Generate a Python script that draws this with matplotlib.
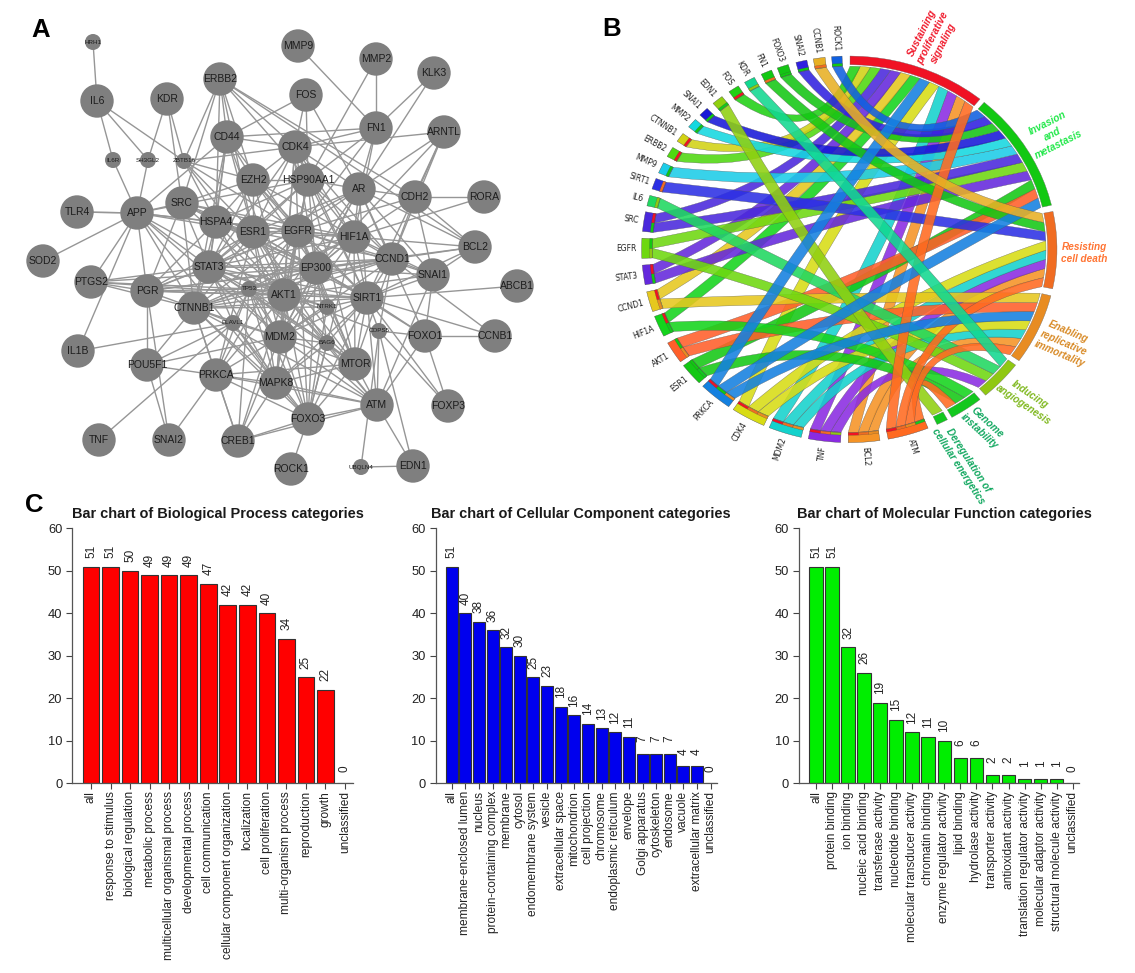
import numpy as np
import matplotlib
matplotlib.use("Agg")
import matplotlib.pyplot as plt
from matplotlib.patches import Circle, PathPatch
from matplotlib.path import Path

plt.rcParams["font.family"] = ["Liberation Sans", "DejaVu Sans"]

W, H = 1135, 973

# ---- panel A: nodes (positions, in pixels) ----
node_names = ["HRH1", "MMP9", "MMP2", "KLK3", "ERBB2", "IL6", "KDR", "FOS", "FN1", "ARNTL",
              "CD44", "CDK4", "IL6R", "SH3GL2", "ZBTB16", "EZH2", "HSP90AA1", "AR", "CDH2", "RORA",
              "TLR4", "APP", "SRC", "HSPA4", "ESR1", "EGFR", "HIF1A", "BCL2", "SOD2", "STAT3",
              "EP300", "CCND1", "SNAI1", "ABCB1", "PTGS2", "PGR", "TP53", "AKT1", "SIRT1", "NTRK1",
              "CTNNB1", "ELAVL1", "MDM2", "COPS5", "BAG6", "FOXO1", "CCNB1", "IL1B", "POU5F1", "MTOR",
              "PRKCA", "MAPK8", "FOXO3", "ATM", "FOXP3", "TNF", "SNAI2", "CREB1", "ROCK1", "UBQLN4", "EDN1"]
node_x = [93, 298, 376, 434, 220, 97, 167, 306, 376, 444,
          227, 295, 113, 148, 184, 253, 308, 359, 415, 484,
          77, 137, 182, 216, 253, 298, 354, 475, 43, 209,
          316, 392, 433, 517, 91, 147, 249, 284, 367, 327,
          194, 233, 280, 379, 327, 425, 495, 78, 147, 355,
          216, 276, 308, 377, 448, 99, 169, 238, 291, 361, 413]
node_y = [42, 46, 59, 73, 79, 101, 99, 95, 128, 132,
          137, 147, 160, 160, 161, 180, 180, 189, 197, 197,
          212, 213, 203, 222, 232, 231, 237, 247, 261, 267,
          268, 259, 275, 286, 282, 291, 289, 295, 298, 307,
          308, 323, 337, 331, 343, 336, 336, 351, 365, 364,
          375, 383, 419, 405, 406, 440, 440, 441, 469, 467, 466]
small_nodes = ["HRH1", "IL6R", "SH3GL2", "ZBTB16", "TP53", "NTRK1", "ELAVL1", "COPS5", "BAG6", "UBQLN4"]

edge_lists = {
    "HRH1": "IL6",
    "IL6": "IL6R SH3GL2 ZBTB16",
    "KDR": "SH3GL2 ZBTB16 SRC",
    "IL6R": "APP",
    "SH3GL2": "APP",
    "ZBTB16": "ERBB2 EZH2 CDK4 HSPA4 ESR1 EGFR AKT1",
    "ERBB2": "CD44 CDK4 EZH2 ESR1 HSPA4 SRC HSP90AA1 CDH2 BCL2",
    "MMP9": "FN1",
    "MMP2": "FN1 HSP90AA1",
    "KLK3": "FN1 AR",
    "FOS": "CD44 CDK4 HSP90AA1 AR",
    "FN1": "CD44 CDK4 AR HSP90AA1 HIF1A EGFR",
    "ARNTL": "AR EP300 CDK4 CDH2 SIRT1 CCND1",
    "CD44": "APP EGFR ESR1 HSPA4 CTNNB1 AKT1 STAT3 EZH2 CDK4",
    "CDK4": "EZH2 HSP90AA1 ESR1 EGFR AR HIF1A EP300 SIRT1 AKT1 STAT3 CCND1 MDM2",
    "EZH2": "HSP90AA1 SRC HSPA4 ESR1 EGFR HIF1A AKT1 STAT3 EP300 SIRT1",
    "HSP90AA1": "AR APP HSPA4 ESR1 EGFR HIF1A STAT3 EP300 AKT1 SIRT1 CCND1 MDM2 MTOR",
    "AR": "CDH2 BCL2 EGFR ESR1 HIF1A EP300 CCND1 SNAI1 AKT1 SIRT1 STAT3 MDM2 FOXO1",
    "CDH2": "RORA CCND1 EGFR SNAI1 BCL2 HIF1A",
    "RORA": "HIF1A",
    "TLR4": "APP",
    "SOD2": "APP",
    "APP": "SRC HSPA4 ESR1 EGFR PGR PTGS2 IL1B STAT3 CTNNB1 AKT1 MDM2 MAPK8 TLR4",
    "SRC": "HSPA4 ESR1 EGFR STAT3 CTNNB1 AKT1 PGR EP300 HIF1A",
    "HSPA4": "ESR1 EGFR STAT3 EP300 AKT1 CTNNB1 SIRT1 MDM2 HIF1A PGR",
    "ESR1": "EGFR STAT3 EP300 AKT1 HIF1A CCND1 SIRT1 MDM2 CTNNB1 PGR MTOR PRKCA MAPK8 BAG6",
    "EGFR": "HIF1A STAT3 EP300 AKT1 CCND1 SIRT1 MDM2 CTNNB1 PGR SNAI1 MTOR PRKCA MAPK8 NTRK1 TP53 FOXO3",
    "HIF1A": "BCL2 CCND1 EP300 STAT3 AKT1 SIRT1 SNAI1 MDM2 CTNNB1 MTOR FOXO3 TP53",
    "BCL2": "CCND1 SNAI1 SIRT1 EP300",
    "STAT3": "EP300 AKT1 TP53 SIRT1 CCND1 CTNNB1 PGR PTGS2 MDM2 MTOR MAPK8 ELAVL1 NTRK1 BAG6",
    "EP300": "CCND1 SNAI1 AKT1 SIRT1 MDM2 TP53 CTNNB1 PGR PTGS2 NTRK1 FOXO1 FOXO3 MTOR MAPK8 BAG6",
    "CCND1": "SNAI1 SIRT1 AKT1 MDM2 CTNNB1 CCNB1 PGR TP53 MTOR COPS5",
    "SNAI1": "SIRT1 AKT1 FOXO1 ATM",
    "ABCB1": "SIRT1",
    "PTGS2": "PGR CTNNB1 AKT1 TP53",
    "PGR": "POU5F1 SNAI2 AKT1 TP53 CTNNB1 SIRT1",
    "TP53": "AKT1 SIRT1 CTNNB1 MDM2 MAPK8 PRKCA MTOR FOXO3 ATM CREB1 ELAVL1",
    "AKT1": "SIRT1 NTRK1 CTNNB1 MDM2 MTOR PRKCA MAPK8 FOXO3 ATM CREB1 BAG6 COPS5",
    "SIRT1": "NTRK1 CTNNB1 MDM2 FOXO1 CCNB1 FOXP3 COPS5 MTOR ATM FOXO3 MAPK8 BAG6",
    "NTRK1": "MDM2 MTOR FOXO3 CTNNB1",
    "CTNNB1": "ELAVL1 MDM2 PRKCA MAPK8 POU5F1 CREB1 FOXO3 ATM",
    "ELAVL1": "IL1B TNF MDM2 MAPK8 FOXO3 POU5F1",
    "MDM2": "BAG6 MTOR MAPK8 FOXO3 ATM CREB1 POU5F1 PRKCA",
    "COPS5": "UBQLN4 FOXO1 FOXP3 EDN1 ATM",
    "BAG6": "MTOR FOXO3 MAPK8 ATM",
    "FOXO1": "CCNB1 FOXP3 ATM",
    "POU5F1": "SNAI2 PRKCA",
    "MTOR": "ATM MAPK8 FOXO3 PRKCA",
    "PRKCA": "SNAI2 CREB1 MAPK8 FOXO3 ATM",
    "MAPK8": "CREB1 FOXO3 ATM",
    "FOXO3": "ATM CREB1 ROCK1",
    "ATM": "EDN1 CREB1",
    "UBQLN4": "EDN1",
}

# ---- panel B: sectors, degrees clockwise from the top ----
gene_names = ["ATM", "BCL2", "TNF", "MDM2", "CDK4", "PRKCA", "ESR1", "AKT1", "HIF1A", "CCND1",
              "STAT3", "EGFR", "SRC", "IL6", "SIRT1", "MMP9", "ERBB2", "CTNNB1", "MMP2", "SNAI1",
              "EDN1", "FOS", "KDR", "FN1", "FOXO3", "SNAI2", "CCNB1", "ROCK1"]
gene_start = [157.7, 171.5, 182.4, 193.4, 204.3, 215.5, 226.3, 234.4, 243.3, 251.2,
              259.4, 267.3, 275.3, 283.0, 288.2, 293.3, 298.7, 304.0, 309.3, 314.0,
              319.0, 324.6, 329.7, 334.9, 339.7, 345.1, 350.0, 355.1]
gene_end = [169.2, 180.3, 191.4, 202.7, 214.0, 224.9, 233.0, 241.0, 249.7, 257.3,
            265.3, 273.3, 281.2, 286.2, 291.5, 296.6, 301.8, 306.8, 312.2, 316.8,
            322.2, 327.7, 332.8, 338.0, 342.9, 348.2, 353.3, 358.0]
gene_colors = ["#ff6a20", "#f59325", "#8a2be2", "#14d2cc", "#d8dc14", "#1480e0", "#14c814", "#ff5f2a",
               "#14d41c", "#e6c81e", "#6428dc", "#6ed810", "#4a28dc", "#20d860", "#2c30e4", "#1ccce8",
               "#50d810", "#d2d214", "#14d8e0", "#1818d8", "#90d010", "#20d014", "#12d890", "#14c814",
               "#14c414", "#3020e0", "#e8b024", "#1060e0"]
# these ribbons lie over the others in the picture
top_genes = ["PRKCA", "ATM", "KDR", "CCNB1"]

hallmark_names = ["Sustaining\nproliferative\nsignaling", "Invasion\nand\nmetastasis", "Resisting\ncell death",
                  "Enabling\nreplicative\nimmortality", "Inducing\nangiogenesis", "Genome\ninstability",
                  "Deregulation of\ncellular energetics"]
hallmark_start = [0.2, 40.5, 78.7, 103.9, 126.8, 141.0, 151.8]
hallmark_end = [39.0, 76.8, 101.8, 125.2, 139.0, 150.4, 155.0]
hallmark_colors = ["#f01224", "#12c812", "#f06c22", "#e88c22", "#90c812", "#12c81e", "#12c81e"]
hallmark_text_colors = ["#f01a2c", "#22e84a", "#ff7433", "#d88a26", "#7fb81e", "#12a860", "#12a860"]
hallmark_text_x = [933, 1053, 1084, 1064, 1027, 983, 963]
hallmark_text_y = [38, 134, 253, 343, 400, 427, 463]
hallmark_text_rot = [63, 27, 0, -23, -34, -43, -57]
hallmark_genes = [
    ["FOS", "CTNNB1", "ERBB2", "SRC", "STAT3", "CCND1", "HIF1A", "PRKCA", "CDK4", "MDM2", "TNF", "BCL2", "ATM"],
    ["ROCK1", "SNAI2", "FOXO3", "SNAI1", "MMP2", "MMP9", "SRC", "EGFR", "STAT3", "ESR1", "AKT1", "PRKCA"],
    ["CCNB1", "FN1", "SIRT1", "CDK4", "MDM2", "TNF", "BCL2", "ATM"],
    ["CCND1", "AKT1", "PRKCA", "CDK4", "MDM2", "BCL2", "ATM"],
    ["KDR", "IL6", "EGFR", "TNF"],
    ["HIF1A", "ESR1", "ATM"],
    ["EDN1"],
]

# ---- panel C ----
bp_labels = ["all", "response to stimulus", "biological regulation", "metabolic process",
             "multicellular organismal process", "developmental process", "cell communication",
             "cellular component organization", "localization", "cell proliferation",
             "multi-organism process", "reproduction", "growth", "unclassified"]
bp_values = [51, 51, 50, 49, 49, 49, 47, 42, 42, 40, 34, 25, 22, 0]
cc_labels = ["all", "membrane-enclosed lumen", "nucleus", "protein-containing complex", "membrane", "cytosol",
             "endomembrane system", "vesicle", "extracellular space", "mitochondrion", "cell projection",
             "chromosome", "endoplasmic reticulum", "envelope", "Golgi apparatus", "cytoskeleton", "endosome",
             "vacuole", "extracellular matrix", "unclassified"]
cc_values = [51, 40, 38, 36, 32, 30, 25, 23, 18, 16, 14, 13, 12, 11, 7, 7, 7, 4, 4, 0]
mf_labels = ["all", "protein binding", "ion binding", "nucleic acid binding", "transferase activity",
             "nucleotide binding", "molecular transducer activity", "chromatin binding",
             "enzyme regulator activity", "lipid binding", "hydrolase activity", "transporter activity",
             "antioxidant activity", "translation regulator activity", "molecular adaptor activity",
             "structural molecule activity", "unclassified"]
mf_values = [51, 51, 32, 26, 19, 15, 12, 11, 10, 6, 6, 2, 2, 1, 1, 1, 0]

fig = plt.figure(figsize=(W / 100, H / 100), dpi=100)


def add_px_axes(left, top, right, bottom):
    return fig.add_axes([left / W, 1 - bottom / H, (right - left) / W, (bottom - top) / H])


# full figure axes in pixels, y going down
ax = add_px_axes(0, 0, W, H)
ax.set_xlim(0, W)
ax.set_ylim(H, 0)
ax.axis("off")

ax.text(41, 30, "A", fontsize=18.5, fontweight="bold", ha="center", va="center")
ax.text(612, 29, "B", fontsize=18.5, fontweight="bold", ha="center", va="center")
ax.text(34, 505, "C", fontsize=18.5, fontweight="bold", ha="center", va="center")

pos = {n: (x, y) for n, x, y in zip(node_names, node_x, node_y)}
for a in edge_lists:
    for b in edge_lists[a].split():
        ax.plot([pos[a][0], pos[b][0]], [pos[a][1], pos[b][1]], color="#969696", lw=1.0, zorder=1)
for n in node_names:
    small = n in small_nodes
    ax.add_patch(Circle(pos[n], 8 if small else 16.7, color="#7f7f7f", lw=0, zorder=2))
    ax.text(pos[n][0], pos[n][1], n, fontsize=4.5 if small else 7.5, color="#1c1c1c",
            ha="center", va="center", zorder=3)

# chord diagram: the circle is squashed in the picture, the axes do that for us
cx, cy, rx, ry = 849.3, 249.3, 207.7, 193.3
m = 1.4
ax_b = add_px_axes(cx - m * rx, cy - m * ry, cx + m * rx, cy + m * ry)
ax_b.set_xlim(-m, m)
ax_b.set_ylim(-m, m)
ax_b.axis("off")
ax_b.patch.set_alpha(0)


def pt(angle, r):
    t = np.radians(angle)
    return np.array([r * np.sin(t), r * np.cos(t)])


def band(a0, a1, r0, r1, color, ec="#444444", lw=0.25, z=5):
    ts = np.linspace(a0, a1, 12)
    verts = [pt(t, r1) for t in ts] + [pt(t, r0) for t in ts[::-1]]
    ax_b.fill([v[0] for v in verts], [v[1] for v in verts], facecolor=color, edgecolor=ec, lw=lw, zorder=z)


def ribbon(a0, a1, b0, b1, color, z):
    r = 0.947
    mid_a = (a0 + a1) / 2
    mid_b = (b0 + b1) / 2
    diff = (mid_b - mid_a) % 360
    diff = min(diff, 360 - diff)
    ctrl_r = 0.62 - 0.0026 * diff
    bis = np.arctan2(np.sin(np.radians(mid_a)) + np.sin(np.radians(mid_b)),
                     np.cos(np.radians(mid_a)) + np.cos(np.radians(mid_b)))
    ctrl = np.array([ctrl_r * np.sin(bis), ctrl_r * np.cos(bis)])
    # the two sides get their own control point, so the ribbon keeps its width
    chord = pt(mid_b, r) - pt(mid_a, r)
    n = np.array([-chord[1], chord[0]]) / np.hypot(chord[0], chord[1])
    if np.dot(n, pt(a1, r) - pt(a0, r)) < 0:
        n = -n
    half = 0.5 * np.radians(a1 - a0) * r
    verts = [pt(a0, r)]
    codes = [Path.MOVETO]
    for t in np.linspace(a0, a1, 5)[1:]:
        verts.append(pt(t, r))
        codes.append(Path.LINETO)
    verts += [ctrl + n * half, pt(b0, r)]
    codes += [Path.CURVE3, Path.CURVE3]
    for t in np.linspace(b0, b1, 5)[1:]:
        verts.append(pt(t, r))
        codes.append(Path.LINETO)
    verts += [ctrl - n * half, pt(a0, r)]
    codes += [Path.CURVE3, Path.CURVE3]
    ax_b.add_patch(PathPatch(Path(verts, codes), facecolor=color, edgecolor="#555555", lw=0.25,
                             alpha=0.88, zorder=z))


# slots in every hallmark sector
hall_slot = {}
for i, genes in enumerate(hallmark_genes):
    step = (hallmark_end[i] - hallmark_start[i]) / len(genes)
    for j, g in enumerate(genes):
        hall_slot[(i, g)] = (hallmark_start[i] + j * step, hallmark_start[i] + (j + 1) * step)

z = 2
for k, g in enumerate(gene_names):
    targets = [i for i in range(len(hallmark_genes)) if g in hallmark_genes[i]][::-1]
    step = (gene_end[k] - gene_start[k]) / len(targets)
    band(gene_start[k], gene_end[k], 0.947, 1.0, gene_colors[k])
    for j, i in enumerate(targets):
        a0 = gene_start[k] + j * step
        a1 = a0 + step
        b0, b1 = hall_slot[(i, g)]
        ribbon(a0, a1, b0, b1, gene_colors[k], z + (1 if g in top_genes else 0))
        z += 0.01
        band(a0, a1, 0.949, 0.962, hallmark_colors[i], lw=0.15)
    # label, reading towards the circle on the left, away from it on the right
    mid = (gene_start[k] + gene_end[k]) / 2
    x, y = pt(mid, 1.025)
    deg = np.degrees(np.arctan2(ry * np.cos(np.radians(mid)), rx * np.sin(np.radians(mid))))
    if mid > 180:
        ax_b.text(x, y, g, fontsize=5.5, family="DejaVu Sans", color="#222222", rotation=deg + 180,
                  rotation_mode="anchor", ha="right", va="center", zorder=8)
    else:
        ax_b.text(x, y, g, fontsize=5.5, family="DejaVu Sans", color="#222222", rotation=deg,
                  rotation_mode="anchor", ha="left", va="center", zorder=8)

for i, name in enumerate(hallmark_names):
    band(hallmark_start[i], hallmark_end[i], 0.955, 1.0, hallmark_colors[i], ec="#666666")
    ax.text(hallmark_text_x[i], hallmark_text_y[i], name, color=hallmark_text_colors[i], fontsize=7.2,
            fontweight="bold", style="italic", rotation=hallmark_text_rot[i], rotation_mode="anchor",
            ha="center", va="center", linespacing=1.25, zorder=8)


# bar charts, the way R draws them
def bar_panel(title, title_x, labels, values, color, axis_x, first_x, last_x, end_x, bar_w):
    pitch = (last_x - first_x) / (len(values) - 1)
    a = add_px_axes(axis_x, 528.3, end_x, 783.3)
    a.set_xlim((axis_x - first_x) / pitch, (end_x - first_x) / pitch)
    a.set_ylim(0, 60)
    a.patch.set_alpha(0)
    xs = np.arange(len(values))
    a.bar(xs, values, width=bar_w, color=color, edgecolor="#333333", lw=0.8)
    for x, v in zip(xs, values):
        a.text(x, v + 3.55, str(v), rotation=90, ha="center", va="center", fontsize=8.5, color="#222222")
    for s in ["top", "right"]:
        a.spines[s].set_visible(False)
    for s in ["left", "bottom"]:
        a.spines[s].set_color("#555555")
        a.spines[s].set_linewidth(0.9)
    a.set_yticks(range(0, 61, 10))
    a.set_xticks(xs)
    a.set_xticklabels(labels, rotation=90, fontsize=8.6, color="#222222")
    a.tick_params(axis="x", length=4.2, width=0.8, color="#444444", pad=1.4)
    a.tick_params(axis="y", length=4.2, width=0.8, color="#444444", pad=3, labelsize=9.3, labelcolor="#222222")
    ax.text(title_x, 514, title, fontsize=10.45, fontweight="bold", color="#1a1a1a", ha="center", va="center")


bar_panel("Bar chart of Biological Process categories", 218, bp_labels, bp_values, "#ff0000",
          72.3, 91, 345, 353, 0.85)
bar_panel("Bar chart of Cellular Component categories", 581, cc_labels, cc_values, "#0000ee",
          435.7, 451.7, 710.7, 716.7, 0.88)
bar_panel("Bar chart of Molecular Function categories", 944, mf_labels, mf_values, "#00ee00",
          799, 816, 1072.7, 1079, 0.85)

fig.savefig("out.png", dpi=100)
